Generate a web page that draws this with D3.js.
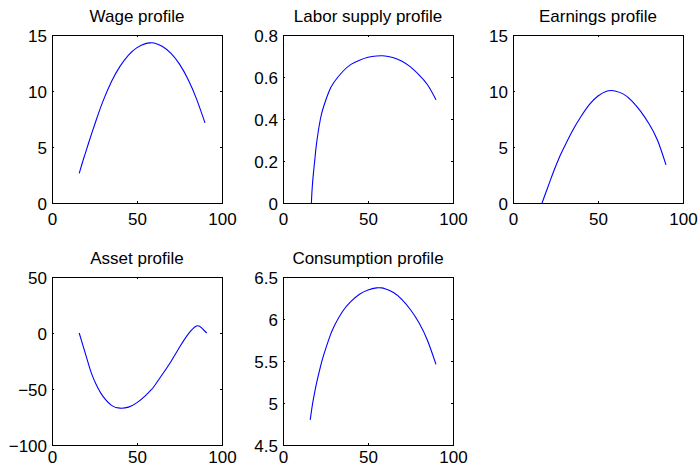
<!DOCTYPE html>
<html>
<head>
<meta charset="utf-8">
<script src="https://cdn.jsdelivr.net/npm/d3@7"></script>
<style>
  body { margin: 0; background: #fff; }
  svg { display: block; font-family: "Liberation Sans", Arial, Helvetica, sans-serif; }
  .tick text { font-size: 17px; fill: #000; }
  .title { font-size: 17px; fill: #000; }
</style>
</head>
<body>
<svg id="fig" width="699" height="467"></svg>
<script>
  // ages shared by the life-cycle profiles
  var ages = [16, 17, 18, 19, 20, 22, 24, 27, 30, 35, 40, 45, 50, 55, 58, 60, 65, 70, 75, 80, 85, 90];

  var wage = [2.65, 3.16, 3.66, 4.15, 4.63, 5.58, 6.5, 7.85, 9.1, 10.85, 12.2, 13.2, 13.87, 14.23, 14.3, 14.28, 13.98, 13.35, 12.4, 11.05, 9.3, 7.15];
  var labor = [-0.14, 0.05, 0.15, 0.23, 0.3, 0.4, 0.462, 0.53, 0.575, 0.625, 0.66, 0.68, 0.694, 0.7, 0.701, 0.7, 0.692, 0.675, 0.648, 0.61, 0.563, 0.492];
  var earnings = [-0.45, -0.04, 0.38, 0.8, 1.21, 2.04, 2.86, 3.98, 4.95, 6.45, 7.72, 8.8, 9.55, 9.97, 10.04, 10.0, 9.72, 9.1, 8.2, 7.07, 5.6, 3.4];
  var consumption = [4.8, 4.94, 5.06, 5.165, 5.26, 5.43, 5.575, 5.76, 5.91, 6.09, 6.21, 6.295, 6.345, 6.37, 6.37, 6.36, 6.315, 6.23, 6.11, 5.955, 5.745, 5.46];

  // assets run one period longer
  var assetAges = [16, 18, 20, 22, 24, 27, 30, 35, 40, 45, 50, 55, 58, 60, 65, 70, 75, 80, 85, 88, 91];
  var assets = [0, -10.1, -20.2, -30.5, -39.2, -49.2, -56.6, -64.6, -67.1, -66.2, -62.2, -55.9, -51.3, -47.8, -36.8, -25.4, -12.8, -1.2, 6.2, 4.6, 0];

  var xTicks = [0, 50, 100];

  var panels = [
    { title: "Wage profile", x: ages, y: wage, yDomain: [0, 15], yTicks: [0, 5, 10, 15], col: 0, row: 0 },
    { title: "Labor supply profile", x: ages, y: labor, yDomain: [0, 0.8], yTicks: [0, 0.2, 0.4, 0.6, 0.8], col: 1, row: 0 },
    { title: "Earnings profile", x: ages, y: earnings, yDomain: [0, 15], yTicks: [0, 5, 10, 15], col: 2, row: 0 },
    { title: "Asset profile", x: assetAges, y: assets, yDomain: [-100, 50], yTicks: [-100, -50, 0, 50], col: 0, row: 1 },
    { title: "Consumption profile", x: ages, y: consumption, yDomain: [4.5, 6.5], yTicks: [4.5, 5, 5.5, 6, 6.5], col: 1, row: 1 }
  ];

  var colLeft = [52, 283, 513];
  var rowTop = [35, 277];
  var w = 170, h = 168;
  var tick = 2;

  var svg = d3.select("#fig");
  var fmt = d3.format("~g");

  panels.forEach(function(p, i) {
    var g = svg.append("g")
      .attr("transform", "translate(" + colLeft[p.col] + "," + rowTop[p.row] + ")");

    var x = d3.scaleLinear().domain([0, 100]).range([0, w]);
    var y = d3.scaleLinear().domain(p.yDomain).range([h, 0]);

    g.append("clipPath").attr("id", "clip" + i)
      .append("rect").attr("width", w).attr("height", h);

    var line = d3.line()
      .x(function(d) { return x(d[0]); })
      .y(function(d) { return y(d[1]); })
      .curve(d3.curveNatural);

    g.append("path")
      .datum(p.x.map(function(a, j) { return [a, p.y[j]]; }))
      .attr("clip-path", "url(#clip" + i + ")")
      .attr("fill", "none")
      .attr("stroke", "#0000ff")
      .attr("stroke-width", 1.1)
      .attr("d", line);

    // axes, ticks pointing inward
    g.append("g").attr("transform", "translate(0," + h + ")")
      .call(d3.axisBottom(x).tickValues(xTicks).tickFormat(fmt).tickSizeInner(-tick).tickSizeOuter(0).tickPadding(p.row ? 6 : 10));
    g.append("g")
      .call(d3.axisLeft(y).tickValues(p.yTicks).tickFormat(fmt).tickSizeInner(-tick).tickSizeOuter(0).tickPadding(5));
    g.append("g")
      .call(d3.axisTop(x).tickValues(xTicks).tickFormat("").tickSizeInner(-tick).tickSizeOuter(0));
    g.append("g").attr("transform", "translate(" + w + ",0)")
      .call(d3.axisRight(y).tickValues(p.yTicks).tickFormat("").tickSizeInner(-tick).tickSizeOuter(0));

    g.selectAll(".domain").remove();
    g.selectAll(".tick line").attr("stroke", "#000");
    g.selectAll(".tick text").attr("font-size", null).attr("font-family", null);
    g.selectAll(".tick text").filter(function() { return this.parentNode.parentNode.getAttribute("transform") === null; })
      .attr("dy", "0.36em");

    g.append("rect")
      .attr("x", 0.5).attr("y", 0.5)
      .attr("width", w).attr("height", h)
      .attr("fill", "none")
      .attr("stroke", "#000")
      .attr("stroke-width", 1);

    g.append("text")
      .attr("class", "title")
      .attr("x", w / 2)
      .attr("y", -13)
      .attr("text-anchor", "middle")
      .text(p.title);
  });
</script>
</body>
</html>
